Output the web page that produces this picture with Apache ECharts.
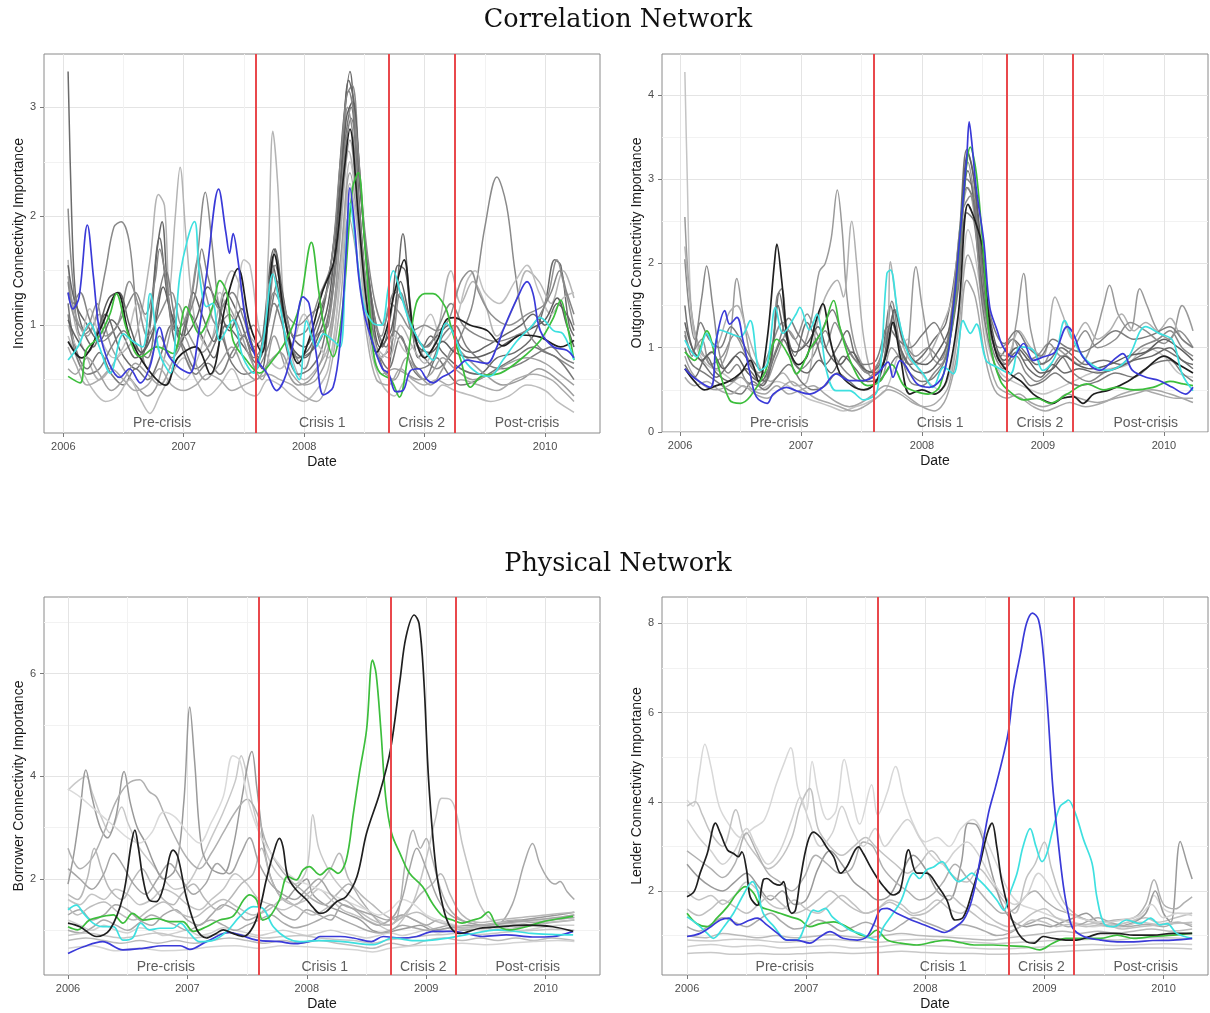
<!DOCTYPE html>
<html>
<head>
<meta charset="utf-8">
<script src="https://cdn.jsdelivr.net/npm/echarts@6/dist/echarts.min.js"></script>
<style>
html,body{margin:0;padding:0;background:#fff;}
#chart{width:1210px;height:1013px;}
</style>
</head>
<body>
<div id="chart"></div>
<script>
// ---- shared axis / period definitions ----
const xTicks = [2006, 2007, 2008, 2009, 2010];
const xMinorTicks = [2006.5, 2007.5, 2008.5, 2009.5];
const crisisDates = [2007.6, 2008.7, 2009.25];
const periodNames = ['Pre-crisis', 'Crisis 1', 'Crisis 2', 'Post-crisis'];
const periodEdges = [2006.04, 2007.6, 2008.7, 2009.25, 2010.45];

const inYTicks = [1, 2, 3];
const inYMinor = [0.5, 1.5, 2.5];
const outYTicks = [0, 1, 2, 3, 4];
const outYMinor = [0.5, 1.5, 2.5, 3.5];
const borYTicks = [2, 4, 6];
const borYMinor = [1, 3, 5, 7];
const lenYTicks = [2, 4, 6, 8];
const lenYMinor = [1, 3, 5, 7];

// ---- Incoming connectivity importance (correlation network) ----
const inBlue = [[2006.04,1.30],[2006.08,1.15],[2006.13,1.25],[2006.2,1.92],[2006.25,1.45],[2006.3,0.95],[2006.38,0.65],[2006.47,0.52],[2006.55,0.6],[2006.64,0.47],[2006.72,0.62],[2006.8,0.98],[2006.86,0.75],[2006.95,0.62],[2007.05,0.56],[2007.12,0.9],[2007.19,1.47],[2007.29,2.25],[2007.35,1.85],[2007.38,1.66],[2007.41,1.84],[2007.45,1.6],[2007.52,1.0],[2007.6,0.7],[2007.69,0.56],[2007.77,0.40],[2007.85,0.55],[2007.92,0.9],[2007.99,1.26],[2008.04,1.2],[2008.1,0.74],[2008.16,0.36],[2008.24,0.43],[2008.3,0.86],[2008.35,1.7],[2008.38,2.26],[2008.42,1.9],[2008.45,1.47],[2008.5,1.1],[2008.58,0.8],[2008.65,0.6],[2008.7,0.56],[2008.76,0.39],[2008.82,0.40],[2008.88,0.58],[2008.95,0.6],[2009.02,0.5],[2009.07,0.47],[2009.14,0.52],[2009.21,0.56],[2009.28,0.62],[2009.35,0.68],[2009.45,0.66],[2009.52,0.65],[2009.6,0.8],[2009.65,0.95],[2009.77,1.25],[2009.85,1.40],[2009.9,1.29],[2009.96,0.95],[2010.07,0.8],[2010.18,0.77],[2010.24,0.7]];
const inCyan = [[2006.04,0.68],[2006.12,0.8],[2006.22,1.02],[2006.3,0.8],[2006.39,0.56],[2006.5,0.92],[2006.58,0.85],[2006.66,0.8],[2006.72,1.29],[2006.8,0.74],[2006.89,0.56],[2006.97,1.47],[2007.09,1.95],[2007.13,1.47],[2007.19,1.17],[2007.24,1.2],[2007.3,0.86],[2007.41,1.05],[2007.49,0.71],[2007.58,0.56],[2007.66,0.86],[2007.74,1.47],[2007.8,1.17],[2007.88,0.71],[2007.96,0.5],[2008.02,1.04],[2008.1,0.8],[2008.16,0.92],[2008.24,0.86],[2008.3,0.8],[2008.35,1.77],[2008.38,2.12],[2008.43,1.72],[2008.49,1.2],[2008.57,1.02],[2008.64,1.0],[2008.7,1.35],[2008.74,1.5],[2008.8,1.29],[2008.88,1.02],[2009.0,0.77],[2009.07,0.68],[2009.18,1.02],[2009.24,0.92],[2009.33,0.68],[2009.44,0.56],[2009.54,0.53],[2009.65,0.68],[2009.77,0.86],[2009.88,0.98],[2009.96,1.07],[2010.07,0.95],[2010.15,0.92],[2010.24,0.68]];
const inGreen = [[2006.04,0.53],[2006.14,0.47],[2006.19,0.77],[2006.3,0.9],[2006.39,1.11],[2006.44,1.29],[2006.53,0.95],[2006.64,0.71],[2006.78,0.8],[2006.91,0.74],[2007.02,1.17],[2007.13,0.92],[2007.24,1.17],[2007.3,1.41],[2007.36,1.29],[2007.41,0.86],[2007.52,0.68],[2007.63,0.56],[2007.74,0.68],[2007.85,0.86],[2007.96,1.17],[2008.06,1.76],[2008.12,1.32],[2008.16,1.02],[2008.24,0.71],[2008.32,1.17],[2008.4,2.25],[2008.45,2.4],[2008.5,1.78],[2008.58,0.71],[2008.63,0.56],[2008.72,0.5],[2008.79,0.34],[2008.86,0.71],[2008.93,1.2],[2009.0,1.29],[2009.07,1.29],[2009.17,1.17],[2009.22,0.98],[2009.3,0.68],[2009.38,0.43],[2009.47,0.53],[2009.63,0.56],[2009.79,0.68],[2009.96,0.86],[2010.07,1.07],[2010.13,1.23],[2010.18,1.02],[2010.24,0.68]];
const inBlack = [[2006.04,0.85],[2006.15,0.7],[2006.3,0.95],[2006.45,1.3],[2006.55,0.9],[2006.7,0.6],[2006.85,0.45],[2006.95,0.7],[2007.1,0.8],[2007.22,0.55],[2007.35,1.2],[2007.45,1.52],[2007.55,1.0],[2007.65,0.75],[2007.75,1.65],[2007.85,1.0],[2007.95,0.65],[2008.05,0.9],[2008.15,1.3],[2008.25,1.6],[2008.33,2.4],[2008.38,2.8],[2008.45,2.0],[2008.52,1.2],[2008.6,0.75],[2008.68,0.95],[2008.75,1.3],[2008.83,1.6],[2008.9,1.0],[2009.0,0.7],[2009.1,0.85],[2009.18,1.05],[2009.24,1.07],[2009.38,1.0],[2009.52,0.95],[2009.65,0.81],[2009.8,0.91],[2009.96,0.89],[2010.13,0.8],[2010.24,0.86]];
const inGray1 = [[2006.04,3.33],[2006.07,2.0],[2006.1,1.3],[2006.15,1.0],[2006.25,0.8],[2006.35,1.1],[2006.48,0.75],[2006.6,0.6],[2006.7,0.9],[2006.8,1.8],[2006.86,1.3],[2006.95,0.8],[2007.05,1.1],[2007.15,0.9],[2007.25,0.7],[2007.35,1.0],[2007.5,0.8],[2007.6,0.65],[2007.75,1.7],[2007.85,1.0],[2007.95,0.7],[2008.05,0.8],[2008.15,1.1],[2008.25,1.8],[2008.32,2.8],[2008.38,3.33],[2008.43,2.6],[2008.5,1.5],[2008.58,0.9],[2008.68,0.55],[2008.76,1.2],[2008.82,1.84],[2008.88,1.2],[2008.95,0.7],[2009.05,0.9],[2009.15,0.75],[2009.3,0.6],[2009.45,0.55],[2009.6,0.7],[2009.75,0.75],[2009.9,0.9],[2010.0,1.2],[2010.08,1.6],[2010.13,1.55],[2010.2,1.0],[2010.24,0.9]];
const inGray2 = [[2006.04,2.07],[2006.08,1.4],[2006.15,0.9],[2006.25,1.0],[2006.35,1.5],[2006.42,1.9],[2006.48,1.95],[2006.55,1.75],[2006.62,1.0],[2006.7,0.6],[2006.8,0.9],[2006.9,0.7],[2007.0,0.9],[2007.1,1.5],[2007.18,2.22],[2007.23,1.8],[2007.3,1.1],[2007.4,0.7],[2007.5,0.9],[2007.6,0.6],[2007.7,0.8],[2007.8,1.2],[2007.9,0.8],[2008.0,0.6],[2008.1,0.9],[2008.2,1.0],[2008.28,1.9],[2008.35,3.1],[2008.4,3.2],[2008.46,2.4],[2008.55,1.2],[2008.62,0.7],[2008.72,0.8],[2008.8,1.3],[2008.9,0.9],[2009.0,0.7],[2009.1,0.6],[2009.2,0.7],[2009.3,0.9],[2009.4,1.2],[2009.5,1.9],[2009.6,2.36],[2009.68,2.1],[2009.75,1.5],[2009.83,1.0],[2009.95,0.8],[2010.1,0.7],[2010.24,0.6]];
const inGray3 = [[2006.04,1.6],[2006.1,1.0],[2006.2,0.7],[2006.3,0.5],[2006.45,0.7],[2006.6,0.9],[2006.72,1.6],[2006.79,2.2],[2006.84,2.1],[2006.88,1.3],[2006.93,2.0],[2006.97,2.45],[2007.02,1.8],[2007.1,1.0],[2007.2,0.8],[2007.3,1.2],[2007.4,1.5],[2007.48,1.3],[2007.55,0.9],[2007.65,0.8],[2007.7,1.6],[2007.74,2.78],[2007.78,2.3],[2007.83,1.2],[2007.9,0.7],[2008.0,0.5],[2008.1,0.6],[2008.2,0.8],[2008.3,1.8],[2008.37,2.6],[2008.43,2.2],[2008.5,1.2],[2008.6,0.8],[2008.7,0.7],[2008.8,1.0],[2008.9,0.8],[2009.0,0.65],[2009.1,0.9],[2009.22,1.5],[2009.3,1.2],[2009.4,1.4],[2009.5,1.2],[2009.6,0.9],[2009.75,1.2],[2009.85,1.5],[2009.95,1.4],[2010.05,1.2],[2010.15,1.5],[2010.24,1.25]];
const inGray4 = [[2006.04,1.2],[2006.1,0.8],[2006.2,0.6],[2006.3,0.75],[2006.4,0.55],[2006.5,0.45],[2006.6,0.6],[2006.7,0.5],[2006.8,0.7],[2006.9,1.0],[2007.0,0.8],[2007.1,0.6],[2007.2,0.7],[2007.3,0.9],[2007.4,0.65],[2007.5,0.55],[2007.6,0.6],[2007.7,1.0],[2007.78,1.4],[2007.85,0.8],[2007.95,0.55],[2008.05,0.6],[2008.15,0.8],[2008.25,1.5],[2008.33,2.6],[2008.39,3.0],[2008.45,2.2],[2008.52,1.3],[2008.6,0.8],[2008.7,0.6],[2008.8,0.9],[2008.9,0.6],[2009.0,0.5],[2009.1,0.7],[2009.2,0.55],[2009.3,0.45],[2009.45,0.5],[2009.6,0.6],[2009.75,0.7],[2009.9,0.8],[2010.0,0.75],[2010.1,0.7],[2010.24,0.5]];
const inGray5 = [[2006.04,1.45],[2006.1,1.1],[2006.2,0.9],[2006.3,1.1],[2006.4,0.8],[2006.5,0.6],[2006.6,0.45],[2006.7,0.35],[2006.78,0.45],[2006.88,0.9],[2006.95,1.2],[2007.05,0.9],[2007.15,0.75],[2007.25,0.9],[2007.35,1.2],[2007.45,1.0],[2007.55,0.7],[2007.65,0.5],[2007.75,0.9],[2007.85,0.6],[2007.95,0.45],[2008.05,0.5],[2008.15,0.7],[2008.25,1.2],[2008.32,2.2],[2008.38,2.7],[2008.45,2.0],[2008.55,1.0],[2008.65,0.6],[2008.75,0.5],[2008.85,0.7],[2008.95,0.55],[2009.05,0.45],[2009.15,0.6],[2009.25,0.8],[2009.35,0.7],[2009.5,0.55],[2009.65,0.45],[2009.8,0.5],[2009.95,0.6],[2010.1,0.5],[2010.24,0.35]];
const inGray6 = [[2006.04,0.9],[2006.15,0.6],[2006.25,0.4],[2006.35,0.3],[2006.45,0.35],[2006.55,0.5],[2006.65,0.3],[2006.72,0.19],[2006.8,0.35],[2006.9,0.55],[2007.0,0.7],[2007.1,0.5],[2007.2,0.35],[2007.3,0.45],[2007.4,0.6],[2007.5,0.4],[2007.6,0.35],[2007.7,0.5],[2007.8,0.45],[2007.9,0.35],[2008.0,0.3],[2008.1,0.4],[2008.2,0.6],[2008.3,1.4],[2008.38,2.3],[2008.45,1.8],[2008.55,0.8],[2008.65,0.45],[2008.75,0.35],[2008.85,0.5],[2008.95,0.4],[2009.05,0.35],[2009.15,0.45],[2009.25,0.4],[2009.4,0.35],[2009.55,0.3],[2009.7,0.35],[2009.85,0.45],[2010.0,0.4],[2010.1,0.3],[2010.24,0.2]];
const inGray7 = [[2006.04,1.55],[2006.1,1.2],[2006.2,1.0],[2006.3,0.85],[2006.4,1.05],[2006.5,0.9],[2006.6,0.7],[2006.7,0.85],[2006.78,1.7],[2006.82,1.95],[2006.88,1.2],[2006.98,0.85],[2007.08,1.3],[2007.15,1.1],[2007.25,0.85],[2007.35,1.3],[2007.45,1.1],[2007.55,0.8],[2007.63,0.7],[2007.72,1.4],[2007.76,1.7],[2007.82,1.3],[2007.9,0.9],[2008.0,0.8],[2008.1,1.0],[2008.2,1.4],[2008.3,2.3],[2008.37,3.25],[2008.42,3.0],[2008.5,1.8],[2008.58,1.1],[2008.65,0.8],[2008.72,1.1],[2008.78,1.55],[2008.84,1.5],[2008.9,1.0],[2009.0,0.8],[2009.1,0.9],[2009.2,1.0],[2009.3,0.8],[2009.4,0.75],[2009.5,0.8],[2009.65,0.9],[2009.8,1.0],[2009.9,1.1],[2010.0,1.0],[2010.1,1.2],[2010.18,1.1],[2010.24,0.95]];
const inGray8 = [[2006.04,1.0],[2006.12,0.8],[2006.22,1.15],[2006.3,0.9],[2006.42,0.7],[2006.52,0.85],[2006.62,1.2],[2006.7,1.0],[2006.8,0.75],[2006.9,0.6],[2007.0,0.5],[2007.1,0.65],[2007.2,1.0],[2007.3,1.3],[2007.4,1.0],[2007.5,1.6],[2007.55,1.55],[2007.62,1.0],[2007.7,0.7],[2007.8,0.6],[2007.9,0.8],[2008.0,1.1],[2008.1,0.85],[2008.2,0.7],[2008.3,1.5],[2008.38,2.5],[2008.45,2.0],[2008.55,1.0],[2008.65,0.7],[2008.75,0.9],[2008.85,0.75],[2008.95,0.9],[2009.05,1.1],[2009.15,0.85],[2009.25,1.0],[2009.35,1.4],[2009.42,1.5],[2009.5,1.3],[2009.62,1.2],[2009.75,1.4],[2009.85,1.55],[2009.95,1.3],[2010.05,1.1],[2010.15,1.25],[2010.24,1.3]];
const inGray9 = [[2006.04,1.1],[2006.1,0.75],[2006.2,0.55],[2006.3,0.6],[2006.4,0.8],[2006.5,0.95],[2006.6,0.8],[2006.7,0.7],[2006.78,1.2],[2006.85,1.5],[2006.92,1.1],[2007.0,0.75],[2007.1,0.55],[2007.2,0.65],[2007.3,0.55],[2007.4,0.75],[2007.5,0.9],[2007.58,0.7],[2007.65,0.8],[2007.75,1.2],[2007.85,0.9],[2007.95,0.7],[2008.05,0.75],[2008.15,0.9],[2008.25,1.4],[2008.33,2.5],[2008.39,2.9],[2008.46,2.3],[2008.53,1.5],[2008.6,1.0],[2008.68,0.8],[2008.75,0.95],[2008.85,0.8],[2008.95,0.6],[2009.05,0.65],[2009.15,0.9],[2009.25,1.0],[2009.35,0.8],[2009.5,0.65],[2009.65,0.6],[2009.8,0.65],[2009.95,0.75],[2010.05,0.8],[2010.15,0.7],[2010.24,0.65]];
const inGray10 = [[2006.04,0.8],[2006.1,0.65],[2006.2,0.45],[2006.3,0.5],[2006.4,0.6],[2006.5,0.5],[2006.6,0.4],[2006.7,0.45],[2006.8,0.6],[2006.9,0.45],[2007.0,0.4],[2007.1,0.45],[2007.2,0.55],[2007.3,0.5],[2007.4,0.4],[2007.5,0.45],[2007.6,0.5],[2007.7,0.55],[2007.8,0.5],[2007.9,0.45],[2008.0,0.35],[2008.1,0.3],[2008.2,0.5],[2008.3,1.2],[2008.37,2.0],[2008.44,1.6],[2008.52,0.9],[2008.6,0.5],[2008.7,0.45],[2008.8,0.6],[2008.9,0.5],[2009.0,0.45],[2009.1,0.5],[2009.2,0.45],[2009.3,0.5],[2009.45,0.45],[2009.6,0.4],[2009.75,0.5],[2009.9,0.55],[2010.05,0.5],[2010.15,0.4],[2010.24,0.3]];
const inGray11 = [[2006.04,1.3],[2006.1,1.05],[2006.18,0.95],[2006.28,1.2],[2006.35,0.9],[2006.45,1.0],[2006.55,1.4],[2006.62,1.2],[2006.7,0.9],[2006.8,1.1],[2006.9,1.3],[2006.98,1.0],[2007.05,1.2],[2007.12,1.6],[2007.18,1.3],[2007.28,1.0],[2007.38,1.1],[2007.48,0.9],[2007.58,1.0],[2007.66,0.85],[2007.75,1.3],[2007.85,1.1],[2007.95,1.0],[2008.05,1.1],[2008.15,1.2],[2008.25,1.6],[2008.31,2.3],[2008.36,3.0],[2008.41,2.7],[2008.48,1.7],[2008.56,1.1],[2008.64,0.9],[2008.72,1.2],[2008.8,1.1],[2008.9,0.95],[2009.0,1.0],[2009.1,0.95],[2009.2,1.05],[2009.3,1.4],[2009.38,1.5],[2009.45,1.3],[2009.55,1.1],[2009.7,1.0],[2009.85,1.1],[2010.0,1.2],[2010.1,1.6],[2010.15,1.4],[2010.24,1.0]];
const inGray12 = [[2006.04,1.05],[2006.1,0.9],[2006.2,0.75],[2006.3,1.0],[2006.38,1.25],[2006.46,1.3],[2006.55,1.0],[2006.65,0.75],[2006.75,0.95],[2006.83,1.35],[2006.9,1.1],[2007.0,0.9],[2007.1,1.05],[2007.2,1.35],[2007.28,1.2],[2007.38,0.95],[2007.48,1.15],[2007.56,0.85],[2007.65,0.6],[2007.74,1.55],[2007.8,1.25],[2007.9,0.8],[2008.0,0.7],[2008.1,0.85],[2008.2,1.2],[2008.28,2.0],[2008.35,2.9],[2008.4,3.05],[2008.47,2.2],[2008.55,1.3],[2008.63,0.8],[2008.72,0.95],[2008.8,1.4],[2008.87,1.1],[2008.95,0.8],[2009.05,0.75],[2009.15,0.85],[2009.25,0.75],[2009.4,0.7],[2009.55,0.75],[2009.7,0.85],[2009.85,0.95],[2010.0,1.05],[2010.1,1.25],[2010.18,1.0],[2010.24,0.8]];
const inGray13 = [[2006.04,0.6],[2006.1,0.55],[2006.2,0.7],[2006.3,0.55],[2006.4,0.4],[2006.5,0.5],[2006.6,0.65],[2006.7,0.55],[2006.8,0.45],[2006.9,0.65],[2007.0,0.9],[2007.08,0.7],[2007.18,0.5],[2007.3,0.65],[2007.4,0.8],[2007.5,0.6],[2007.6,0.5],[2007.7,0.65],[2007.8,0.75],[2007.9,0.55],[2008.0,0.45],[2008.1,0.5],[2008.2,0.75],[2008.3,1.6],[2008.38,2.4],[2008.45,1.9],[2008.55,0.9],[2008.65,0.55],[2008.75,0.6],[2008.85,0.55],[2008.95,0.5],[2009.05,0.55],[2009.15,0.7],[2009.25,0.6],[2009.4,0.5],[2009.55,0.55],[2009.7,0.65],[2009.85,0.7],[2010.0,0.65],[2010.12,0.55],[2010.24,0.45]];
const inGray14 = [[2006.04,1.4],[2006.08,1.2],[2006.14,1.3],[2006.22,1.05],[2006.32,0.85],[2006.42,0.95],[2006.52,1.15],[2006.6,1.3],[2006.68,1.1],[2006.76,1.4],[2006.8,1.7],[2006.85,1.45],[2006.93,0.95],[2007.02,1.05],[2007.1,1.3],[2007.15,1.7],[2007.2,1.45],[2007.3,1.15],[2007.4,1.3],[2007.5,1.05],[2007.58,0.8],[2007.68,0.95],[2007.76,1.55],[2007.83,1.2],[2007.92,0.9],[2008.02,0.95],[2008.12,1.25],[2008.22,1.55],[2008.3,2.5],[2008.37,3.15],[2008.43,2.8],[2008.5,1.9],[2008.58,1.25],[2008.66,1.0],[2008.75,1.3],[2008.83,1.2],[2008.92,0.9],[2009.02,0.8],[2009.12,1.0],[2009.22,1.2],[2009.32,1.0],[2009.45,0.9],[2009.6,0.85],[2009.75,0.9],[2009.9,1.0],[2010.05,1.3],[2010.12,1.5],[2010.18,1.3],[2010.24,1.1]];
const inGrays = [inGray1, inGray2, inGray3, inGray4, inGray5, inGray6, inGray7, inGray8, inGray9, inGray10, inGray11, inGray12, inGray13, inGray14];
const inGrayShades = ['#6b6b6b', '#8a8a8a', '#b4b4b4', '#767676', '#9c9c9c', '#bdbdbd', '#666666', '#c0c0c0', '#7f7f7f', '#ababab', '#909090', '#5e5e5e', '#a0a0a0', '#858585'];

// ---- Outgoing connectivity importance (correlation network) ----
const outBlue = [[2006.04,0.75],[2006.11,0.65],[2006.25,0.53],[2006.3,1.09],[2006.37,1.44],[2006.41,1.28],[2006.47,1.36],[2006.52,1.09],[2006.58,0.69],[2006.63,0.42],[2006.72,0.34],[2006.77,0.45],[2006.88,0.53],[2006.96,0.49],[2007.07,0.45],[2007.18,0.53],[2007.29,0.69],[2007.4,0.61],[2007.52,0.61],[2007.63,0.69],[2007.72,0.83],[2007.76,0.65],[2007.82,0.85],[2007.96,0.57],[2008.06,0.53],[2008.18,0.69],[2008.26,1.48],[2008.31,2.27],[2008.37,3.26],[2008.39,3.68],[2008.41,3.46],[2008.45,2.87],[2008.51,2.27],[2008.56,1.48],[2008.62,1.21],[2008.67,1.01],[2008.75,0.89],[2008.84,1.05],[2008.92,0.85],[2009.0,0.89],[2009.1,0.95],[2009.2,1.25],[2009.25,1.17],[2009.33,0.89],[2009.47,0.73],[2009.58,0.85],[2009.66,0.93],[2009.74,0.73],[2009.85,0.65],[2009.96,0.61],[2010.07,0.53],[2010.18,0.45],[2010.24,0.53]];
const outCyan = [[2006.04,1.09],[2006.14,0.89],[2006.22,1.17],[2006.28,1.01],[2006.33,1.21],[2006.41,1.17],[2006.5,1.13],[2006.58,1.32],[2006.66,0.73],[2006.72,0.8],[2006.79,1.48],[2006.85,1.17],[2006.96,1.4],[2006.99,1.48],[2007.07,1.21],[2007.13,1.4],[2007.21,0.73],[2007.29,0.49],[2007.4,0.49],[2007.52,0.38],[2007.63,0.49],[2007.71,1.88],[2007.74,1.92],[2007.8,1.4],[2007.85,1.09],[2007.9,0.89],[2008.01,0.69],[2008.09,0.53],[2008.18,0.77],[2008.26,0.69],[2008.34,1.32],[2008.4,1.17],[2008.45,1.28],[2008.53,0.85],[2008.62,0.77],[2008.73,0.69],[2008.81,1.01],[2008.92,0.97],[2009.0,0.73],[2009.1,0.89],[2009.18,1.32],[2009.25,1.09],[2009.36,0.85],[2009.53,0.73],[2009.69,0.85],[2009.85,1.25],[2009.96,1.17],[2010.07,1.09],[2010.15,0.69],[2010.24,0.49]];
const outGreen = [[2006.04,0.95],[2006.12,0.85],[2006.22,1.2],[2006.3,0.85],[2006.41,0.38],[2006.5,0.34],[2006.58,0.42],[2006.7,0.7],[2006.8,1.1],[2006.9,0.9],[2006.96,0.69],[2007.08,1.0],[2007.18,1.21],[2007.27,1.56],[2007.32,1.25],[2007.42,0.8],[2007.55,0.55],[2007.65,0.6],[2007.75,0.8],[2007.85,0.55],[2007.95,0.48],[2008.05,0.45],[2008.15,0.55],[2008.25,1.3],[2008.34,2.75],[2008.4,3.38],[2008.45,3.06],[2008.51,2.08],[2008.56,1.09],[2008.65,0.6],[2008.75,0.45],[2008.84,0.38],[2008.95,0.4],[2009.06,0.34],[2009.2,0.45],[2009.36,0.57],[2009.5,0.5],[2009.61,0.53],[2009.75,0.5],[2009.91,0.53],[2010.05,0.6],[2010.16,0.57],[2010.24,0.55]];
const outBlack = [[2006.04,0.75],[2006.12,0.6],[2006.2,0.5],[2006.3,0.55],[2006.4,0.6],[2006.5,0.7],[2006.58,0.85],[2006.65,0.6],[2006.72,1.1],[2006.78,2.0],[2006.8,2.23],[2006.84,1.8],[2006.9,1.0],[2006.98,0.8],[2007.05,0.9],[2007.12,1.3],[2007.18,1.52],[2007.24,1.1],[2007.32,0.7],[2007.42,0.55],[2007.52,0.5],[2007.62,0.6],[2007.7,0.9],[2007.76,1.3],[2007.82,0.9],[2007.9,0.45],[2008.0,0.5],[2008.1,0.45],[2008.2,0.6],[2008.3,1.4],[2008.38,2.7],[2008.44,2.5],[2008.5,2.19],[2008.55,1.4],[2008.62,0.9],[2008.72,0.7],[2008.82,0.6],[2008.92,0.45],[2009.0,0.38],[2009.08,0.34],[2009.16,0.4],[2009.25,0.42],[2009.33,0.34],[2009.42,0.45],[2009.55,0.5],[2009.7,0.6],[2009.85,0.75],[2010.0,0.9],[2010.12,0.8],[2010.24,0.7]];
const outGray1 = [[2006.04,4.27],[2006.06,3.0],[2006.09,1.5],[2006.14,1.0],[2006.22,0.8],[2006.35,0.7],[2006.5,0.55],[2006.65,0.5],[2006.8,0.6],[2006.95,0.5],[2007.05,0.4],[2007.15,0.35],[2007.25,0.3],[2007.35,0.25],[2007.45,0.3],[2007.55,0.35],[2007.7,0.5],[2007.8,0.9],[2007.88,1.1],[2007.95,0.8],[2008.05,0.6],[2008.15,0.5],[2008.25,0.8],[2008.33,1.8],[2008.38,2.4],[2008.45,2.0],[2008.55,1.0],[2008.65,0.7],[2008.75,0.6],[2008.9,0.5],[2009.0,0.45],[2009.1,0.5],[2009.25,0.6],[2009.4,0.7],[2009.55,0.75],[2009.7,0.8],[2009.85,1.0],[2010.0,0.9],[2010.12,0.7],[2010.24,0.65]];
const outGray2 = [[2006.04,2.05],[2006.08,1.4],[2006.12,1.1],[2006.18,1.6],[2006.22,1.97],[2006.27,1.5],[2006.33,0.9],[2006.4,0.7],[2006.47,0.8],[2006.55,0.6],[2006.65,0.55],[2006.75,0.8],[2006.8,1.6],[2006.84,1.7],[2006.9,1.0],[2007.0,0.75],[2007.1,0.9],[2007.2,1.2],[2007.28,0.9],[2007.38,0.7],[2007.5,0.6],[2007.6,0.7],[2007.7,1.1],[2007.75,1.55],[2007.82,1.0],[2007.9,0.6],[2008.0,0.55],[2008.1,0.7],[2008.2,0.9],[2008.3,1.8],[2008.37,3.0],[2008.42,2.9],[2008.5,1.8],[2008.58,1.0],[2008.68,0.75],[2008.78,0.9],[2008.86,0.7],[2008.95,0.6],[2009.05,0.7],[2009.15,0.9],[2009.25,0.7],[2009.38,0.6],[2009.5,0.7],[2009.65,0.8],[2009.8,1.0],[2009.95,1.1],[2010.05,1.2],[2010.15,1.0],[2010.24,0.9]];
const outGray3 = [[2006.04,2.55],[2006.07,1.8],[2006.12,1.2],[2006.2,0.9],[2006.3,0.75],[2006.4,1.0],[2006.47,1.82],[2006.52,1.4],[2006.6,0.8],[2006.7,0.6],[2006.8,0.9],[2006.9,1.2],[2007.0,1.0],[2007.08,1.3],[2007.15,1.9],[2007.2,2.0],[2007.25,2.3],[2007.3,2.87],[2007.34,2.4],[2007.38,1.6],[2007.45,1.0],[2007.55,0.7],[2007.65,0.6],[2007.75,1.0],[2007.85,0.8],[2007.95,1.96],[2008.0,1.5],[2008.08,0.9],[2008.15,0.8],[2008.25,1.3],[2008.32,2.2],[2008.38,3.2],[2008.44,2.7],[2008.5,1.6],[2008.6,1.0],[2008.7,0.8],[2008.78,1.3],[2008.84,1.88],[2008.9,1.2],[2009.0,0.8],[2009.1,1.0],[2009.2,0.9],[2009.3,0.8],[2009.42,1.1],[2009.5,1.5],[2009.55,1.74],[2009.62,1.4],[2009.72,1.2],[2009.8,1.7],[2009.86,1.5],[2009.95,1.2],[2010.05,1.1],[2010.15,1.5],[2010.24,1.2]];
const outGray4 = [[2006.04,1.5],[2006.1,1.0],[2006.2,0.8],[2006.3,0.65],[2006.4,0.8],[2006.5,0.95],[2006.6,0.75],[2006.7,0.6],[2006.78,1.2],[2006.82,1.65],[2006.88,1.2],[2006.95,0.9],[2007.05,1.3],[2007.12,1.1],[2007.2,0.8],[2007.3,1.0],[2007.38,1.2],[2007.45,0.9],[2007.55,0.7],[2007.65,0.8],[2007.74,1.5],[2007.8,1.1],[2007.9,0.8],[2008.0,0.9],[2008.1,1.1],[2008.2,1.3],[2008.3,2.2],[2008.37,3.35],[2008.42,3.1],[2008.48,2.2],[2008.55,1.3],[2008.65,0.9],[2008.75,1.1],[2008.85,0.95],[2008.95,0.8],[2009.05,0.85],[2009.15,1.0],[2009.25,0.9],[2009.35,0.8],[2009.5,0.85],[2009.65,0.8],[2009.8,0.9],[2009.95,1.0],[2010.1,0.9],[2010.24,0.75]];
const outGray5 = [[2006.04,2.2],[2006.08,1.6],[2006.12,1.2],[2006.2,0.9],[2006.3,1.0],[2006.4,1.4],[2006.47,1.5],[2006.55,1.2],[2006.65,0.8],[2006.75,0.6],[2006.85,0.7],[2006.95,0.55],[2007.05,0.6],[2007.12,1.2],[2007.2,1.6],[2007.3,1.8],[2007.35,1.6],[2007.42,2.5],[2007.46,2.0],[2007.52,1.1],[2007.6,0.7],[2007.7,0.9],[2007.74,2.02],[2007.78,1.6],[2007.85,1.0],[2007.95,0.8],[2008.05,0.9],[2008.15,1.2],[2008.25,1.6],[2008.32,2.5],[2008.38,2.9],[2008.45,2.4],[2008.52,1.5],[2008.6,1.0],[2008.7,0.9],[2008.8,1.2],[2008.9,1.0],[2009.0,0.9],[2009.1,1.6],[2009.16,1.4],[2009.25,1.1],[2009.35,1.3],[2009.45,1.1],[2009.55,1.2],[2009.65,1.4],[2009.75,1.2],[2009.85,1.3],[2009.95,1.2],[2010.05,1.35],[2010.15,1.1],[2010.24,1.0]];
const outGray6 = [[2006.04,1.0],[2006.1,0.8],[2006.2,0.7],[2006.3,0.6],[2006.4,0.5],[2006.5,0.45],[2006.6,0.6],[2006.7,0.5],[2006.8,0.65],[2006.9,0.8],[2007.0,0.6],[2007.1,0.5],[2007.2,0.55],[2007.3,0.7],[2007.4,0.6],[2007.5,0.5],[2007.6,0.55],[2007.7,0.7],[2007.8,0.9],[2007.9,0.7],[2008.0,0.6],[2008.1,0.65],[2008.2,0.9],[2008.3,1.7],[2008.37,2.6],[2008.43,2.5],[2008.5,1.5],[2008.6,0.8],[2008.7,0.6],[2008.8,0.7],[2008.9,0.55],[2009.0,0.6],[2009.1,0.7],[2009.2,0.6],[2009.3,0.55],[2009.45,0.6],[2009.6,0.7],[2009.75,0.65],[2009.9,0.8],[2010.05,0.85],[2010.15,0.7],[2010.24,0.6]];
const outGray7 = [[2006.04,0.9],[2006.1,0.7],[2006.2,0.55],[2006.3,0.5],[2006.4,0.55],[2006.5,0.65],[2006.6,0.5],[2006.7,0.45],[2006.8,0.55],[2006.9,0.45],[2007.0,0.5],[2007.1,0.55],[2007.2,0.45],[2007.3,0.35],[2007.4,0.3],[2007.5,0.35],[2007.6,0.45],[2007.7,0.55],[2007.8,0.5],[2007.9,0.4],[2008.0,0.3],[2008.1,0.25],[2008.2,0.4],[2008.3,1.0],[2008.37,1.8],[2008.44,1.6],[2008.52,0.9],[2008.6,0.5],[2008.7,0.4],[2008.8,0.45],[2008.9,0.35],[2009.0,0.3],[2009.1,0.35],[2009.2,0.45],[2009.3,0.4],[2009.45,0.35],[2009.6,0.4],[2009.75,0.45],[2009.9,0.5],[2010.05,0.45],[2010.15,0.4],[2010.24,0.35]];
const outGray8 = [[2006.04,1.2],[2006.1,0.95],[2006.18,1.1],[2006.25,0.8],[2006.35,0.9],[2006.45,1.15],[2006.55,0.9],[2006.65,0.7],[2006.75,1.0],[2006.85,1.3],[2006.95,1.1],[2007.05,1.4],[2007.12,1.2],[2007.2,1.0],[2007.28,1.3],[2007.35,1.1],[2007.45,0.85],[2007.55,0.7],[2007.65,0.85],[2007.72,1.2],[2007.78,1.45],[2007.85,1.1],[2007.95,0.9],[2008.05,1.0],[2008.15,0.85],[2008.25,1.5],[2008.33,2.6],[2008.4,2.8],[2008.47,2.0],[2008.55,1.2],[2008.65,1.0],[2008.75,1.1],[2008.85,0.85],[2008.95,0.9],[2009.05,1.05],[2009.15,0.9],[2009.25,1.0],[2009.35,1.2],[2009.45,1.0],[2009.6,1.1],[2009.72,1.3],[2009.85,1.2],[2010.0,1.05],[2010.12,1.2],[2010.24,1.0]];
const outGray9 = [[2006.04,0.8],[2006.12,0.65],[2006.22,0.9],[2006.3,0.7],[2006.42,0.6],[2006.55,0.75],[2006.68,0.55],[2006.78,0.9],[2006.85,1.1],[2006.95,0.8],[2007.05,0.7],[2007.15,0.85],[2007.25,0.7],[2007.35,0.9],[2007.45,0.75],[2007.55,0.6],[2007.65,0.65],[2007.75,1.3],[2007.82,1.0],[2007.92,0.75],[2008.02,0.7],[2008.12,0.8],[2008.22,1.1],[2008.3,2.0],[2008.38,3.1],[2008.44,2.6],[2008.5,1.7],[2008.58,1.1],[2008.68,0.8],[2008.78,0.95],[2008.88,0.75],[2008.98,0.65],[2009.08,0.8],[2009.18,0.7],[2009.3,0.75],[2009.45,0.7],[2009.6,0.75],[2009.75,0.85],[2009.9,0.9],[2010.05,1.0],[2010.15,0.85],[2010.24,0.8]];
const outGray10 = [[2006.04,1.3],[2006.1,1.0],[2006.18,0.85],[2006.26,0.95],[2006.36,0.75],[2006.46,0.9],[2006.56,0.7],[2006.66,0.6],[2006.75,0.85],[2006.81,1.5],[2006.86,1.2],[2006.95,0.95],[2007.05,1.05],[2007.14,1.25],[2007.22,0.95],[2007.32,0.8],[2007.42,0.95],[2007.52,0.75],[2007.62,0.7],[2007.72,1.0],[2007.77,1.45],[2007.84,1.1],[2007.93,0.85],[2008.03,0.8],[2008.13,0.95],[2008.23,1.25],[2008.31,2.3],[2008.38,3.3],[2008.44,2.9],[2008.51,1.9],[2008.59,1.15],[2008.68,0.85],[2008.78,1.0],[2008.88,0.85],[2008.98,0.7],[2009.08,0.75],[2009.18,0.9],[2009.28,0.8],[2009.4,0.75],[2009.55,0.8],[2009.7,0.9],[2009.85,0.95],[2010.0,1.1],[2010.12,1.0],[2010.24,0.85]];
const outGray11 = [[2006.04,0.65],[2006.12,0.55],[2006.22,0.6],[2006.32,0.5],[2006.42,0.45],[2006.52,0.55],[2006.62,0.45],[2006.72,0.4],[2006.82,0.5],[2006.92,0.6],[2007.02,0.5],[2007.12,0.4],[2007.22,0.35],[2007.32,0.3],[2007.42,0.25],[2007.52,0.3],[2007.62,0.4],[2007.72,0.5],[2007.82,0.45],[2007.92,0.35],[2008.02,0.3],[2008.12,0.35],[2008.22,0.55],[2008.3,1.2],[2008.38,2.1],[2008.45,1.8],[2008.53,1.0],[2008.62,0.55],[2008.72,0.45],[2008.82,0.4],[2008.92,0.3],[2009.02,0.25],[2009.12,0.3],[2009.22,0.35],[2009.35,0.3],[2009.5,0.35],[2009.65,0.45],[2009.8,0.5],[2009.95,0.45],[2010.1,0.4],[2010.24,0.4]];
const outGray12 = [[2006.04,1.15],[2006.1,0.9],[2006.17,1.3],[2006.24,1.1],[2006.33,1.0],[2006.42,1.25],[2006.5,1.1],[2006.6,0.85],[2006.7,0.7],[2006.8,1.0],[2006.9,1.35],[2006.98,1.15],[2007.08,1.0],[2007.17,1.2],[2007.26,1.45],[2007.33,1.2],[2007.42,0.9],[2007.52,0.8],[2007.62,0.85],[2007.72,1.25],[2007.8,1.1],[2007.9,1.0],[2008.0,1.15],[2008.1,1.3],[2008.2,1.05],[2008.3,1.9],[2008.37,2.9],[2008.43,2.75],[2008.5,1.9],[2008.58,1.3],[2008.68,1.05],[2008.78,1.2],[2008.88,1.0],[2008.98,0.9],[2009.08,1.1],[2009.2,1.0],[2009.32,0.95],[2009.45,1.05],[2009.6,1.2],[2009.75,1.1],[2009.9,1.15],[2010.05,1.25],[2010.15,1.1],[2010.24,1.0]];
const outGrays = [outGray1, outGray2, outGray3, outGray4, outGray5, outGray6, outGray7, outGray8, outGray9, outGray10, outGray11, outGray12];
const outGrayShades = ['#c4c4c4', '#888888', '#9a9a9a', '#707070', '#b0b0b0', '#7a7a7a', '#a4a4a4', '#8f8f8f', '#6a6a6a', '#5f5f5f', '#a9a9a9', '#7c7c7c'];

// ---- Borrower connectivity importance (physical network) ----
const borBlue = [[2006.0,0.55],[2006.13,0.68],[2006.29,0.78],[2006.46,0.62],[2006.63,0.65],[2006.8,0.7],[2006.94,0.7],[2007.02,0.63],[2007.16,0.78],[2007.35,0.96],[2007.44,0.91],[2007.58,0.81],[2007.77,0.78],[2007.89,0.74],[2008.05,0.8],[2008.11,0.88],[2008.28,0.88],[2008.39,0.85],[2008.54,0.78],[2008.64,0.88],[2008.78,0.85],[2008.92,0.88],[2009.06,0.98],[2009.22,0.98],[2009.33,0.94],[2009.47,0.88],[2009.67,0.91],[2009.89,0.87],[2010.06,0.88],[2010.23,0.98]];
const borCyan = [[2006.0,1.4],[2006.07,1.49],[2006.13,1.33],[2006.21,1.14],[2006.29,1.07],[2006.38,1.07],[2006.46,0.81],[2006.54,0.85],[2006.61,1.14],[2006.68,1.01],[2006.77,1.04],[2006.88,1.04],[2006.94,1.14],[2007.02,0.94],[2007.1,0.78],[2007.22,0.81],[2007.33,0.98],[2007.44,1.27],[2007.55,1.46],[2007.63,1.43],[2007.72,1.07],[2007.83,0.85],[2007.94,0.78],[2008.1,0.8],[2008.3,0.78],[2008.56,0.72],[2008.72,0.85],[2008.9,0.8],[2009.05,0.81],[2009.33,0.91],[2009.6,1.01],[2009.88,0.94],[2010.05,0.92],[2010.23,0.91]];
const borGreen = [[2006.0,1.07],[2006.08,1.01],[2006.18,1.2],[2006.29,1.27],[2006.38,1.3],[2006.46,1.14],[2006.54,1.33],[2006.63,1.2],[2006.74,1.23],[2006.85,1.17],[2006.96,1.17],[2007.05,0.98],[2007.16,1.07],[2007.27,1.2],[2007.38,1.27],[2007.47,1.59],[2007.52,1.69],[2007.58,1.59],[2007.63,1.2],[2007.69,1.27],[2007.77,1.59],[2007.84,2.05],[2007.91,1.98],[2007.97,2.18],[2008.02,2.24],[2008.11,2.08],[2008.19,2.21],[2008.26,2.11],[2008.33,2.37],[2008.39,3.28],[2008.44,4.06],[2008.5,4.9],[2008.55,6.26],[2008.58,6.0],[2008.62,4.9],[2008.66,3.6],[2008.71,2.89],[2008.78,2.5],[2008.86,2.11],[2008.97,1.85],[2009.05,1.53],[2009.14,1.27],[2009.22,1.2],[2009.3,1.14],[2009.39,1.2],[2009.46,1.25],[2009.52,1.36],[2009.59,1.1],[2009.7,1.01],[2009.84,1.07],[2009.98,1.17],[2010.12,1.23],[2010.23,1.27]];
const borBlack = [[2006.0,1.14],[2006.1,1.07],[2006.24,0.88],[2006.35,1.01],[2006.46,1.66],[2006.53,2.69],[2006.56,2.95],[2006.59,2.6],[2006.63,1.98],[2006.68,1.59],[2006.74,1.56],[2006.8,1.85],[2006.85,2.43],[2006.88,2.56],[2006.92,2.43],[2006.99,1.66],[2007.08,1.01],[2007.16,0.85],[2007.24,0.94],[2007.3,1.01],[2007.38,0.94],[2007.47,0.88],[2007.55,1.07],[2007.61,1.46],[2007.66,1.98],[2007.72,2.5],[2007.77,2.79],[2007.8,2.63],[2007.84,2.05],[2007.91,1.79],[2008.0,1.59],[2008.05,1.45],[2008.11,1.33],[2008.16,1.36],[2008.25,1.56],[2008.33,1.66],[2008.42,2.05],[2008.5,2.89],[2008.61,3.67],[2008.7,4.51],[2008.78,5.87],[2008.83,6.71],[2008.9,7.14],[2008.94,6.97],[2008.98,5.87],[2009.02,3.92],[2009.08,2.24],[2009.14,1.46],[2009.2,1.07],[2009.28,0.94],[2009.45,1.04],[2009.62,1.07],[2009.84,1.1],[2010.06,1.07],[2010.23,0.98]];
const borGray1 = [[2006.0,3.73],[2006.08,3.9],[2006.15,4.0],[2006.2,3.7],[2006.28,3.2],[2006.35,2.9],[2006.45,3.4],[2006.5,3.1],[2006.6,2.6],[2006.7,2.3],[2006.8,2.0],[2006.9,1.8],[2007.0,1.9],[2007.1,2.3],[2007.2,2.8],[2007.3,3.3],[2007.4,3.9],[2007.45,4.4],[2007.5,4.0],[2007.55,3.4],[2007.62,2.8],[2007.7,2.3],[2007.8,2.0],[2007.9,1.9],[2008.0,2.2],[2008.05,3.25],[2008.1,2.6],[2008.2,2.1],[2008.3,1.8],[2008.4,1.6],[2008.5,1.4],[2008.6,1.2],[2008.7,1.1],[2008.8,1.3],[2008.9,1.2],[2009.0,1.1],[2009.1,1.0],[2009.2,1.05],[2009.35,1.0],[2009.5,1.1],[2009.7,1.15],[2009.9,1.2],[2010.1,1.25],[2010.24,1.3]];
const borGray2 = [[2006.0,1.9],[2006.05,2.5],[2006.1,3.3],[2006.15,4.12],[2006.2,3.6],[2006.27,3.0],[2006.33,2.8],[2006.4,3.2],[2006.47,4.09],[2006.52,3.5],[2006.58,3.0],[2006.65,2.7],[2006.72,2.3],[2006.8,2.0],[2006.9,2.2],[2006.97,3.5],[2007.02,5.35],[2007.06,4.3],[2007.12,2.6],[2007.2,2.2],[2007.3,2.1],[2007.38,2.6],[2007.45,3.5],[2007.54,4.48],[2007.58,3.8],[2007.65,2.5],[2007.72,1.9],[2007.82,1.6],[2007.9,1.8],[2008.0,2.0],[2008.05,1.7],[2008.15,1.5],[2008.25,1.4],[2008.35,1.3],[2008.45,1.2],[2008.55,1.0],[2008.65,0.95],[2008.75,1.0],[2008.85,1.05],[2008.95,1.1],[2009.05,1.0],[2009.2,1.05],[2009.35,1.1],[2009.5,1.05],[2009.65,1.15],[2009.8,1.2],[2009.95,1.25],[2010.1,1.3],[2010.24,1.35]];
const borGray3 = [[2006.0,2.6],[2006.1,2.2],[2006.2,2.4],[2006.3,2.9],[2006.4,3.5],[2006.5,3.85],[2006.6,3.93],[2006.68,3.7],[2006.74,3.6],[2006.8,3.3],[2006.9,2.8],[2007.0,2.4],[2007.1,2.2],[2007.2,2.5],[2007.3,2.9],[2007.4,3.3],[2007.5,3.55],[2007.58,3.3],[2007.66,2.7],[2007.75,2.3],[2007.85,2.0],[2007.95,1.8],[2008.05,1.6],[2008.15,1.5],[2008.25,1.7],[2008.35,1.9],[2008.45,1.6],[2008.55,1.3],[2008.65,1.1],[2008.75,1.2],[2008.83,2.4],[2008.89,2.95],[2008.95,2.6],[2009.0,2.79],[2009.05,2.4],[2009.12,1.8],[2009.2,1.4],[2009.3,1.2],[2009.45,1.1],[2009.6,1.0],[2009.75,1.05],[2009.9,1.1],[2010.05,1.15],[2010.24,1.2]];
const borGray4 = [[2006.0,1.6],[2006.1,1.5],[2006.2,1.7],[2006.3,1.6],[2006.4,1.8],[2006.5,1.7],[2006.6,1.5],[2006.7,1.6],[2006.8,1.8],[2006.9,1.7],[2007.0,1.5],[2007.1,1.4],[2007.2,1.6],[2007.3,1.8],[2007.4,2.1],[2007.5,1.9],[2007.6,1.6],[2007.7,1.5],[2007.8,1.4],[2007.9,1.5],[2008.0,1.6],[2008.1,1.8],[2008.2,1.6],[2008.3,1.4],[2008.4,1.3],[2008.5,1.2],[2008.6,1.1],[2008.7,1.0],[2008.8,1.2],[2008.9,1.6],[2009.0,2.4],[2009.08,3.2],[2009.13,3.57],[2009.2,3.55],[2009.25,3.3],[2009.3,2.7],[2009.38,2.0],[2009.45,1.5],[2009.55,1.2],[2009.7,1.1],[2009.85,1.15],[2010.0,1.2],[2010.24,1.25]];
const borGray5 = [[2006.0,1.3],[2006.1,1.4],[2006.2,1.2],[2006.3,1.3],[2006.4,1.5],[2006.5,1.4],[2006.6,1.2],[2006.7,1.1],[2006.8,1.3],[2006.9,1.4],[2007.0,1.2],[2007.1,1.1],[2007.2,1.3],[2007.3,1.5],[2007.4,1.4],[2007.5,1.2],[2007.6,1.3],[2007.7,1.5],[2007.8,1.3],[2007.9,1.2],[2008.0,1.4],[2008.1,1.3],[2008.2,1.2],[2008.3,1.5],[2008.4,1.4],[2008.5,1.2],[2008.6,1.1],[2008.7,1.2],[2008.8,1.3],[2008.9,1.2],[2009.0,1.1],[2009.1,1.2],[2009.2,1.1],[2009.3,1.0],[2009.45,1.05],[2009.6,1.1],[2009.72,1.5],[2009.82,2.3],[2009.89,2.69],[2009.95,2.3],[2010.02,2.0],[2010.08,1.9],[2010.12,1.95],[2010.18,1.75],[2010.24,1.6]];
const borGray6 = [[2006.0,1.2],[2006.1,1.1],[2006.2,1.0],[2006.3,1.1],[2006.4,1.0],[2006.5,0.95],[2006.6,1.05],[2006.7,1.0],[2006.8,0.9],[2006.9,0.95],[2007.0,1.0],[2007.1,0.9],[2007.2,0.95],[2007.3,1.05],[2007.4,1.0],[2007.5,0.95],[2007.6,0.9],[2007.7,0.95],[2007.8,1.0],[2007.9,0.95],[2008.0,0.9],[2008.1,0.95],[2008.2,1.0],[2008.3,0.95],[2008.4,0.9],[2008.5,0.85],[2008.6,0.9],[2008.7,0.95],[2008.8,0.9],[2008.9,0.95],[2009.0,1.0],[2009.1,0.95],[2009.2,1.0],[2009.35,1.05],[2009.5,1.0],[2009.65,1.05],[2009.8,1.0],[2009.95,1.05],[2010.1,1.1],[2010.24,1.1]];
const borGray7 = [[2006.0,0.8],[2006.15,0.85],[2006.3,0.8],[2006.45,0.75],[2006.6,0.8],[2006.75,0.75],[2006.9,0.8],[2007.05,0.75],[2007.2,0.8],[2007.35,0.85],[2007.5,0.8],[2007.65,0.75],[2007.8,0.8],[2007.95,0.75],[2008.1,0.8],[2008.25,0.75],[2008.4,0.7],[2008.55,0.65],[2008.7,0.75],[2008.85,0.7],[2009.0,0.8],[2009.15,0.85],[2009.3,0.8],[2009.45,0.85],[2009.6,0.8],[2009.75,0.85],[2009.9,0.8],[2010.05,0.85],[2010.24,0.8]];
const borGray8 = [[2006.0,1.7],[2006.08,1.6],[2006.16,2.0],[2006.22,2.6],[2006.28,2.2],[2006.35,1.8],[2006.45,1.6],[2006.55,2.0],[2006.62,2.2],[2006.7,1.9],[2006.8,1.6],[2006.88,1.5],[2006.95,1.7],[2007.05,1.9],[2007.15,1.6],[2007.25,1.4],[2007.35,1.6],[2007.45,1.9],[2007.55,2.1],[2007.62,2.6],[2007.7,2.0],[2007.8,1.6],[2007.9,1.5],[2008.0,1.7],[2008.1,1.9],[2008.2,2.2],[2008.27,2.5],[2008.35,2.0],[2008.45,1.7],[2008.55,1.5],[2008.65,1.3],[2008.75,1.2],[2008.85,1.4],[2008.95,1.7],[2009.05,1.9],[2009.12,2.1],[2009.2,1.7],[2009.3,1.3],[2009.45,1.15],[2009.6,1.2],[2009.8,1.25],[2010.0,1.3],[2010.24,1.35]];
const borGray9 = [[2006.0,3.75],[2006.1,3.6],[2006.2,3.4],[2006.3,3.2],[2006.4,3.0],[2006.5,2.8],[2006.6,2.7],[2006.7,2.9],[2006.8,3.3],[2006.9,3.2],[2007.0,2.9],[2007.1,2.7],[2007.2,3.1],[2007.3,3.6],[2007.38,4.4],[2007.44,4.3],[2007.5,3.6],[2007.6,2.9],[2007.7,2.5],[2007.8,2.2],[2007.9,2.0],[2008.0,1.9],[2008.1,1.8],[2008.2,1.7],[2008.3,1.6],[2008.4,1.5],[2008.5,1.4],[2008.6,1.3],[2008.7,1.4],[2008.8,1.6],[2008.9,1.5],[2009.0,1.3],[2009.1,1.2],[2009.25,1.1],[2009.4,1.05],[2009.6,1.1],[2009.8,1.15],[2010.0,1.2],[2010.24,1.25]];
const borGray10 = [[2006.0,1.0],[2006.1,0.95],[2006.2,1.05],[2006.3,1.2],[2006.4,1.1],[2006.5,1.0],[2006.6,1.15],[2006.7,1.3],[2006.8,1.2],[2006.9,1.1],[2007.0,1.0],[2007.1,1.1],[2007.2,1.2],[2007.3,1.1],[2007.4,1.0],[2007.5,1.1],[2007.6,1.2],[2007.7,1.3],[2007.8,1.15],[2007.9,1.05],[2008.0,1.1],[2008.1,1.2],[2008.2,1.3],[2008.3,1.2],[2008.4,1.1],[2008.5,1.0],[2008.6,0.95],[2008.7,1.0],[2008.8,1.1],[2008.9,1.05],[2009.0,1.0],[2009.1,1.05],[2009.2,1.1],[2009.3,1.05],[2009.45,1.1],[2009.6,1.15],[2009.75,1.2],[2009.9,1.15],[2010.05,1.2],[2010.24,1.25]];
const borGray11 = [[2006.0,0.65],[2006.2,0.7],[2006.4,0.6],[2006.6,0.65],[2006.8,0.6],[2007.0,0.62],[2007.2,0.68],[2007.4,0.7],[2007.6,0.65],[2007.8,0.7],[2008.0,0.68],[2008.2,0.65],[2008.4,0.62],[2008.55,0.58],[2008.7,0.65],[2008.9,0.7],[2009.1,0.72],[2009.3,0.75],[2009.5,0.72],[2009.7,0.75],[2009.9,0.78],[2010.1,0.8],[2010.24,0.78]];
const borGray12 = [[2006.0,0.9],[2006.15,0.95],[2006.3,0.9],[2006.45,0.85],[2006.6,0.9],[2006.75,0.95],[2006.9,0.88],[2007.05,0.85],[2007.2,0.9],[2007.35,0.95],[2007.5,0.9],[2007.65,0.85],[2007.8,0.88],[2007.95,0.9],[2008.1,0.85],[2008.25,0.82],[2008.4,0.8],[2008.55,0.75],[2008.7,0.82],[2008.85,0.85],[2009.0,0.9],[2009.15,0.92],[2009.3,0.95],[2009.45,0.92],[2009.6,0.95],[2009.75,0.98],[2009.9,1.0],[2010.05,1.02],[2010.24,1.0]];
const borGray13 = [[2006.0,1.45],[2006.08,1.3],[2006.18,1.45],[2006.3,1.55],[2006.42,1.35],[2006.55,1.2],[2006.68,1.4],[2006.8,1.55],[2006.92,1.35],[2007.05,1.25],[2007.18,1.45],[2007.3,1.6],[2007.42,1.45],[2007.55,1.3],[2007.68,1.4],[2007.8,1.6],[2007.92,1.45],[2008.05,1.3],[2008.18,1.45],[2008.3,1.6],[2008.42,1.4],[2008.55,1.2],[2008.68,1.1],[2008.8,1.25],[2008.92,1.35],[2009.05,1.2],[2009.2,1.1],[2009.35,1.05],[2009.5,1.1],[2009.65,1.15],[2009.8,1.1],[2010.0,1.15],[2010.24,1.2]];
const borGray14 = [[2006.0,2.2],[2006.1,2.0],[2006.2,1.8],[2006.3,2.1],[2006.38,2.5],[2006.45,2.3],[2006.55,1.9],[2006.65,1.7],[2006.75,2.0],[2006.85,2.3],[2006.95,2.0],[2007.05,1.7],[2007.15,1.9],[2007.25,2.3],[2007.35,2.1],[2007.45,2.5],[2007.52,2.8],[2007.6,2.3],[2007.7,1.9],[2007.8,1.7],[2007.9,1.6],[2008.0,1.8],[2008.1,2.0],[2008.2,1.7],[2008.3,1.5],[2008.42,1.4],[2008.55,1.3],[2008.68,1.2],[2008.78,1.5],[2008.86,2.2],[2008.92,2.6],[2009.0,2.2],[2009.1,1.6],[2009.2,1.3],[2009.35,1.15],[2009.5,1.1],[2009.7,1.15],[2009.9,1.2],[2010.1,1.25],[2010.24,1.3]];
const borGrays = [borGray1, borGray2, borGray3, borGray4, borGray5, borGray6, borGray7, borGray8, borGray9, borGray10, borGray11, borGray12, borGray13, borGray14];
const borGrayShades = ['#c8c8c8', '#9a9a9a', '#b0b0b0', '#c4c4c4', '#a8a8a8', '#d0d0d0', '#bcbcbc', '#b8b8b8', '#dadada', '#aaaaaa', '#d4d4d4', '#c6c6c6', '#bdbdbd', '#a5a5a5'];

// ---- Lender connectivity importance (physical network) ----
const lenBlue = [[2006.0,0.98],[2006.11,1.05],[2006.2,1.2],[2006.28,1.35],[2006.35,1.39],[2006.42,1.24],[2006.53,1.35],[2006.59,1.39],[2006.67,1.24],[2006.76,1.05],[2006.84,0.9],[2006.92,0.9],[2007.03,0.83],[2007.12,0.98],[2007.2,1.09],[2007.31,0.94],[2007.43,0.9],[2007.51,0.98],[2007.57,1.27],[2007.62,1.57],[2007.68,1.61],[2007.76,1.5],[2007.85,1.39],[2007.96,1.27],[2008.03,1.2],[2008.1,1.12],[2008.16,1.07],[2008.23,1.16],[2008.32,1.35],[2008.39,1.8],[2008.46,2.7],[2008.53,3.74],[2008.59,4.34],[2008.66,5.09],[2008.7,5.61],[2008.74,6.5],[2008.8,7.33],[2008.85,8.0],[2008.9,8.23],[2008.95,8.08],[2008.99,7.33],[2009.03,5.98],[2009.07,4.34],[2009.12,2.99],[2009.16,2.1],[2009.2,1.5],[2009.24,1.16],[2009.33,0.98],[2009.47,0.9],[2009.61,0.86],[2009.75,0.86],[2009.91,0.89],[2010.08,0.9],[2010.24,0.94]];
const lenCyan = [[2006.0,1.42],[2006.08,1.27],[2006.17,1.05],[2006.22,0.94],[2006.31,1.2],[2006.39,1.5],[2006.48,1.95],[2006.55,2.21],[2006.59,2.02],[2006.64,1.5],[2006.73,1.2],[2006.84,0.9],[2006.92,0.9],[2007.01,1.35],[2007.06,1.57],[2007.1,1.54],[2007.16,1.61],[2007.22,1.42],[2007.29,1.27],[2007.37,1.12],[2007.45,1.05],[2007.54,0.94],[2007.59,0.9],[2007.65,1.2],[2007.73,1.5],[2007.8,1.8],[2007.86,2.25],[2007.9,2.4],[2007.95,2.28],[2008.01,2.47],[2008.07,2.54],[2008.14,2.66],[2008.21,2.4],[2008.28,2.21],[2008.34,2.3],[2008.39,2.4],[2008.45,2.25],[2008.52,2.06],[2008.6,1.8],[2008.66,1.57],[2008.71,1.95],[2008.77,2.4],[2008.82,2.99],[2008.88,3.4],[2008.93,2.99],[2008.98,2.66],[2009.02,2.84],[2009.07,3.37],[2009.13,3.89],[2009.18,4.0],[2009.2,4.04],[2009.26,3.74],[2009.33,3.14],[2009.4,2.62],[2009.44,1.87],[2009.5,1.27],[2009.58,1.2],[2009.69,1.35],[2009.8,1.27],[2009.89,1.39],[2009.97,1.24],[2010.03,1.27],[2010.11,1.05],[2010.24,0.94]];
const lenGreen = [[2006.0,1.5],[2006.08,1.27],[2006.17,1.2],[2006.25,1.39],[2006.34,1.65],[2006.42,1.95],[2006.49,2.1],[2006.56,1.95],[2006.62,1.65],[2006.7,1.57],[2006.78,1.5],[2006.87,1.42],[2006.95,1.35],[2007.03,1.2],[2007.12,1.27],[2007.23,1.31],[2007.34,1.2],[2007.43,1.05],[2007.51,0.98],[2007.59,1.12],[2007.68,0.9],[2007.79,0.83],[2007.93,0.79],[2008.07,0.86],[2008.18,0.9],[2008.3,0.84],[2008.41,0.79],[2008.57,0.79],[2008.71,0.77],[2008.85,0.75],[2008.96,0.68],[2009.07,0.83],[2009.18,0.94],[2009.33,0.94],[2009.47,0.94],[2009.61,1.01],[2009.75,0.94],[2009.91,0.98],[2010.08,1.01],[2010.24,1.05]];
const lenBlack = [[2006.0,1.87],[2006.06,1.99],[2006.11,2.4],[2006.17,2.84],[2006.24,3.52],[2006.28,3.29],[2006.34,2.92],[2006.39,2.84],[2006.43,2.77],[2006.46,2.88],[2006.5,2.47],[2006.53,1.87],[2006.59,1.68],[2006.64,2.25],[2006.67,2.28],[2006.73,2.17],[2006.78,2.13],[2006.81,2.21],[2006.85,1.65],[2006.88,1.5],[2006.91,1.57],[2006.95,2.25],[2007.01,3.07],[2007.06,3.32],[2007.12,3.2],[2007.17,2.99],[2007.23,2.77],[2007.29,2.4],[2007.34,2.54],[2007.44,2.99],[2007.48,2.84],[2007.54,2.54],[2007.59,2.32],[2007.65,2.1],[2007.73,1.91],[2007.79,2.02],[2007.86,2.92],[2007.93,2.4],[2008.01,2.4],[2008.1,2.13],[2008.18,1.8],[2008.25,1.35],[2008.32,1.42],[2008.39,1.95],[2008.46,2.62],[2008.52,3.29],[2008.56,3.52],[2008.6,2.99],[2008.64,2.25],[2008.71,1.5],[2008.78,1.05],[2008.85,0.86],[2008.91,0.83],[2008.99,0.98],[2009.07,0.94],[2009.18,0.9],[2009.27,0.9],[2009.38,0.98],[2009.47,1.05],[2009.6,1.05],[2009.75,1.01],[2009.91,1.01],[2010.08,1.05],[2010.24,1.05]];
const lenGray1 = [[2006.0,4.04],[2006.05,3.9],[2006.1,4.6],[2006.15,5.29],[2006.2,4.8],[2006.27,3.9],[2006.35,3.5],[2006.45,3.2],[2006.55,3.4],[2006.65,3.6],[2006.75,4.4],[2006.82,4.9],[2006.87,5.21],[2006.93,4.3],[2007.0,3.8],[2007.05,4.9],[2007.1,4.2],[2007.18,3.6],[2007.25,3.8],[2007.32,4.95],[2007.38,4.2],[2007.45,3.5],[2007.55,4.38],[2007.6,3.7],[2007.68,4.2],[2007.75,4.79],[2007.82,4.1],[2007.9,3.5],[2008.0,3.1],[2008.1,3.2],[2008.2,3.0],[2008.3,3.4],[2008.4,3.6],[2008.5,3.2],[2008.6,2.6],[2008.7,2.0],[2008.8,1.7],[2008.9,1.6],[2009.0,1.5],[2009.1,1.4],[2009.25,1.3],[2009.4,1.2],[2009.55,1.25],[2009.7,1.3],[2009.85,1.5],[2009.92,1.9],[2010.0,1.6],[2010.12,1.5],[2010.24,1.5]];
const lenGray2 = [[2006.0,3.9],[2006.07,4.0],[2006.13,3.7],[2006.2,3.3],[2006.3,3.0],[2006.41,3.82],[2006.48,3.2],[2006.58,2.8],[2006.68,2.5],[2006.78,2.7],[2006.88,3.2],[2006.95,3.9],[2007.03,4.3],[2007.1,3.4],[2007.2,3.0],[2007.3,2.8],[2007.4,3.0],[2007.5,3.2],[2007.58,3.0],[2007.66,2.8],[2007.75,2.6],[2007.85,2.4],[2007.95,2.6],[2008.05,2.9],[2008.15,2.6],[2008.25,2.3],[2008.35,2.2],[2008.45,2.5],[2008.55,2.2],[2008.65,1.8],[2008.75,1.5],[2008.85,2.3],[2008.92,2.6],[2009.0,3.1],[2009.06,2.5],[2009.15,1.8],[2009.25,1.5],[2009.4,1.3],[2009.55,1.2],[2009.7,1.3],[2009.85,1.4],[2009.95,1.3],[2010.1,1.4],[2010.24,1.5]];
const lenGray3 = [[2006.0,2.6],[2006.1,2.3],[2006.2,2.1],[2006.3,2.0],[2006.4,2.2],[2006.5,2.4],[2006.6,2.1],[2006.7,1.8],[2006.8,2.0],[2006.9,1.7],[2007.0,1.8],[2007.1,2.5],[2007.2,2.9],[2007.3,2.6],[2007.4,2.2],[2007.5,2.0],[2007.6,1.8],[2007.7,1.9],[2007.8,2.4],[2007.9,2.8],[2008.0,2.5],[2008.1,2.0],[2008.2,1.8],[2008.3,2.6],[2008.36,3.52],[2008.43,3.48],[2008.5,3.0],[2008.58,2.2],[2008.66,1.6],[2008.75,1.3],[2008.85,1.2],[2008.95,1.25],[2009.05,1.2],[2009.15,1.3],[2009.25,1.4],[2009.35,1.5],[2009.45,1.3],[2009.6,1.2],[2009.75,1.3],[2009.85,1.5],[2009.93,2.0],[2010.0,1.5],[2010.06,1.3],[2010.14,3.11],[2010.2,2.6],[2010.24,2.27]];
const lenGray4 = [[2006.0,2.9],[2006.1,2.7],[2006.2,2.5],[2006.3,2.3],[2006.4,2.6],[2006.5,3.3],[2006.58,2.9],[2006.68,2.4],[2006.78,2.2],[2006.88,2.0],[2006.98,2.3],[2007.08,2.8],[2007.18,2.6],[2007.28,2.4],[2007.38,2.5],[2007.48,3.1],[2007.56,3.0],[2007.65,2.5],[2007.75,2.2],[2007.85,2.0],[2007.95,1.8],[2008.05,1.9],[2008.15,2.2],[2008.25,2.6],[2008.35,2.3],[2008.45,2.0],[2008.55,1.7],[2008.65,1.5],[2008.75,1.6],[2008.85,1.9],[2008.92,2.0],[2009.0,1.8],[2009.1,1.6],[2009.2,1.5],[2009.3,1.4],[2009.45,1.3],[2009.6,1.35],[2009.75,1.4],[2009.85,1.7],[2009.92,2.25],[2010.0,1.7],[2010.1,1.6],[2010.18,1.75],[2010.24,1.87]];
const lenGray5 = [[2006.0,2.0],[2006.1,1.8],[2006.2,1.9],[2006.3,1.7],[2006.4,1.9],[2006.5,2.2],[2006.6,2.0],[2006.7,1.7],[2006.8,1.6],[2006.9,1.8],[2007.0,1.6],[2007.1,1.5],[2007.2,1.7],[2007.3,1.9],[2007.4,1.7],[2007.5,1.5],[2007.6,1.6],[2007.7,1.8],[2007.8,1.7],[2007.9,1.5],[2008.0,1.6],[2008.1,1.8],[2008.2,1.6],[2008.3,1.5],[2008.4,1.7],[2008.5,1.5],[2008.6,1.3],[2008.7,1.2],[2008.8,1.3],[2008.9,1.5],[2009.0,1.6],[2009.1,1.4],[2009.2,1.3],[2009.35,1.25],[2009.5,1.3],[2009.65,1.2],[2009.8,1.3],[2009.95,1.25],[2010.1,1.3],[2010.24,1.25]];
const lenGray6 = [[2006.0,0.75],[2006.2,0.8],[2006.4,0.75],[2006.6,0.78],[2006.8,0.72],[2007.0,0.75],[2007.2,0.78],[2007.4,0.72],[2007.6,0.75],[2007.8,0.8],[2008.0,0.78],[2008.2,0.75],[2008.4,0.72],[2008.6,0.7],[2008.8,0.72],[2009.0,0.75],[2009.2,0.78],[2009.4,0.8],[2009.6,0.78],[2009.8,0.8],[2010.0,0.82],[2010.24,0.8]];
const lenGray7 = [[2006.0,0.6],[2006.2,0.62],[2006.4,0.58],[2006.6,0.6],[2006.8,0.58],[2007.0,0.6],[2007.2,0.62],[2007.4,0.6],[2007.6,0.62],[2007.8,0.65],[2008.0,0.62],[2008.2,0.6],[2008.4,0.6],[2008.6,0.58],[2008.8,0.6],[2009.0,0.62],[2009.2,0.65],[2009.4,0.68],[2009.6,0.7],[2009.8,0.72],[2010.0,0.72],[2010.24,0.7]];
const lenGray8 = [[2006.0,1.2],[2006.1,1.1],[2006.2,1.25],[2006.3,1.4],[2006.4,1.3],[2006.5,1.2],[2006.6,1.35],[2006.7,1.5],[2006.8,1.3],[2006.9,1.15],[2007.0,1.2],[2007.1,1.35],[2007.2,1.25],[2007.3,1.1],[2007.4,1.2],[2007.5,1.3],[2007.6,1.2],[2007.7,1.1],[2007.8,1.25],[2007.9,1.4],[2008.0,1.3],[2008.1,1.2],[2008.2,1.1],[2008.3,1.25],[2008.4,1.2],[2008.5,1.1],[2008.6,1.0],[2008.7,1.05],[2008.8,1.2],[2008.9,1.3],[2009.0,1.4],[2009.1,1.3],[2009.2,1.2],[2009.3,1.25],[2009.45,1.4],[2009.55,1.3],[2009.7,1.2],[2009.85,1.25],[2010.0,1.2],[2010.12,1.3],[2010.24,1.2]];
const lenGray9 = [[2006.0,1.0],[2006.15,0.95],[2006.3,1.05],[2006.45,1.0],[2006.6,0.95],[2006.75,1.0],[2006.9,0.95],[2007.05,0.98],[2007.2,1.02],[2007.35,0.98],[2007.5,0.95],[2007.65,1.0],[2007.8,1.05],[2007.95,1.0],[2008.1,0.98],[2008.25,0.95],[2008.4,0.92],[2008.55,0.9],[2008.7,0.95],[2008.85,1.0],[2009.0,1.05],[2009.15,1.1],[2009.3,1.05],[2009.45,1.1],[2009.6,1.05],[2009.75,1.1],[2009.9,1.15],[2010.05,1.1],[2010.24,1.15]];
const lenGray10 = [[2006.0,1.6],[2006.1,1.45],[2006.2,1.6],[2006.3,1.8],[2006.4,1.65],[2006.5,1.5],[2006.6,1.7],[2006.7,1.9],[2006.8,1.7],[2006.9,1.5],[2007.0,1.6],[2007.1,1.8],[2007.2,2.0],[2007.3,1.8],[2007.4,1.6],[2007.5,1.5],[2007.6,1.6],[2007.7,1.75],[2007.8,1.6],[2007.9,1.45],[2008.0,1.5],[2008.1,1.7],[2008.2,1.9],[2008.3,1.7],[2008.4,1.5],[2008.5,1.3],[2008.6,1.2],[2008.7,1.1],[2008.8,1.2],[2008.9,1.35],[2009.0,1.3],[2009.1,1.2],[2009.2,1.25],[2009.35,1.2],[2009.5,1.25],[2009.65,1.15],[2009.8,1.2],[2010.0,1.25],[2010.24,1.3]];
const lenGray11 = [[2006.0,0.9],[2006.2,0.88],[2006.4,0.92],[2006.6,0.9],[2006.8,0.85],[2007.0,0.88],[2007.2,0.92],[2007.4,0.88],[2007.6,0.85],[2007.8,0.9],[2008.0,0.92],[2008.2,0.88],[2008.4,0.85],[2008.6,0.82],[2008.8,0.85],[2009.0,0.88],[2009.2,0.9],[2009.4,0.92],[2009.6,0.9],[2009.8,0.95],[2010.0,0.95],[2010.24,0.92]];
const lenGray12 = [[2006.0,3.6],[2006.1,3.2],[2006.2,2.9],[2006.3,2.6],[2006.4,2.9],[2006.5,3.4],[2006.58,3.0],[2006.68,2.6],[2006.78,2.9],[2006.88,3.6],[2006.95,4.1],[2007.02,3.6],[2007.12,3.0],[2007.22,3.3],[2007.3,3.9],[2007.38,3.4],[2007.48,3.0],[2007.58,3.4],[2007.66,3.0],[2007.75,3.3],[2007.85,3.6],[2007.95,3.2],[2008.05,2.8],[2008.15,2.6],[2008.25,2.9],[2008.35,3.1],[2008.45,2.8],[2008.55,2.3],[2008.65,1.9],[2008.75,1.7],[2008.85,1.9],[2008.95,2.4],[2009.02,2.2],[2009.1,1.8],[2009.2,1.5],[2009.35,1.35],[2009.5,1.3],[2009.65,1.35],[2009.8,1.45],[2009.9,1.7],[2010.0,1.4],[2010.12,1.5],[2010.24,1.45]];
const lenGrays = [lenGray1, lenGray2, lenGray3, lenGray4, lenGray5, lenGray6, lenGray7, lenGray8, lenGray9, lenGray10, lenGray11, lenGray12];
const lenGrayShades = ['#d8d8d8', '#c2c2c2', '#9a9a9a', '#b0b0b0', '#c4c4c4', '#cfcfcf', '#c8c8c8', '#aaaaaa', '#bababa', '#c0c0c0', '#cbcbcb', '#d2d2d2'];

// ---- colours and fonts ----
const highlightColors = { blue: '#3a3ad8', cyan: '#3ee0e0', green: '#3cbe3c', black: '#1f1f1f' };
const crisisColor = '#e9484c';
const sans = 'Liberation Sans, Arial, Helvetica, sans-serif';
const serif = 'DejaVu Serif, Liberation Serif, serif';

// ---- panel layout (pixel boxes of the four plotting areas) ----
const panels = [
  { box: { left: 44, top: 54, width: 556, height: 379 }, x: [2005.84, 2010.456], y: [0.01, 3.49],
    yTicks: inYTicks, yMinor: inYMinor, yName: 'Incoming Connectivity Importance', labelY: 0.1,
    grays: inGrays, shades: inGrayShades, hi: { black: inBlack, green: inGreen, cyan: inCyan, blue: inBlue } },
  { box: { left: 662, top: 54, width: 546, height: 378 }, x: [2005.851, 2010.364], y: [0, 4.484],
    yTicks: outYTicks, yMinor: outYMinor, yName: 'Outgoing Connectivity Importance', labelY: 0.1,
    grays: outGrays, shades: outGrayShades, hi: { black: outBlack, green: outGreen, cyan: outCyan, blue: outBlue } },
  { box: { left: 44, top: 597, width: 556, height: 378 }, x: [2005.799, 2010.455], y: [0.13, 7.49],
    yTicks: borYTicks, yMinor: borYMinor, yName: 'Borrower Connectivity Importance', labelY: 0.29,
    grays: borGrays, shades: borGrayShades, hi: { blue: borBlue, cyan: borCyan, green: borGreen, black: borBlack } },
  { box: { left: 662, top: 597, width: 546, height: 378 }, x: [2005.79, 2010.373], y: [0.117, 8.59],
    yTicks: lenYTicks, yMinor: lenYMinor, yName: 'Lender Connectivity Importance', labelY: 0.3,
    grays: lenGrays, shades: lenGrayShades, hi: { green: lenGreen, black: lenBlack, cyan: lenCyan, blue: lenBlue } }
];

const grid = [], xAxis = [], yAxis = [], series = [];

panels.forEach((p, i) => {
  grid.push(Object.assign({ show: true, borderColor: '#8a8a8a', borderWidth: 1, backgroundColor: '#fff',
    containLabel: false, outerBoundsMode: 'none' }, p.box));

  const tickLabel = { color: '#4d4d4d', fontSize: 11, fontFamily: sans };
  // major x axis with year ticks
  xAxis.push({ type: 'value', gridIndex: i, min: p.x[0], max: p.x[1], position: 'bottom',
    axisLine: { show: false },
    axisTick: { show: true, length: 4, lineStyle: { color: '#7a7a7a' }, customValues: xTicks },
    axisLabel: Object.assign({ customValues: xTicks, margin: 8, formatter: v => String(Math.round(v)) }, tickLabel),
    splitLine: { show: true, lineStyle: { color: '#e4e4e4', width: 1 } },
    name: 'Date', nameLocation: 'middle', nameGap: 22,
    nameTextStyle: { fontSize: 14, color: '#1a1a1a', fontFamily: sans } });
  // minor x grid
  xAxis.push({ type: 'value', gridIndex: i, min: p.x[0], max: p.x[1], position: 'top',
    axisLine: { show: false }, axisTick: { show: false, customValues: xMinorTicks },
    axisLabel: { show: false, customValues: xMinorTicks },
    splitLine: { show: true, lineStyle: { color: '#f2f2f2', width: 1 } } });
  // major y axis
  yAxis.push({ type: 'value', gridIndex: i, min: p.y[0], max: p.y[1], position: 'left',
    axisLine: { show: false },
    axisTick: { show: true, length: 4, lineStyle: { color: '#7a7a7a' }, customValues: p.yTicks },
    axisLabel: Object.assign({ customValues: p.yTicks, margin: 8, formatter: v => String(Math.round(v)) }, tickLabel),
    splitLine: { show: true, lineStyle: { color: '#e4e4e4', width: 1 } },
    name: p.yName, nameLocation: 'middle', nameRotate: 90, nameGap: 18,
    nameTextStyle: { fontSize: 14, color: '#1a1a1a', fontFamily: sans } });
  // minor y grid
  yAxis.push({ type: 'value', gridIndex: i, min: p.y[0], max: p.y[1], position: 'right',
    axisLine: { show: false }, axisTick: { show: false, customValues: p.yMinor },
    axisLabel: { show: false, customValues: p.yMinor },
    splitLine: { show: true, lineStyle: { color: '#f2f2f2', width: 1 } } });

  const xi = i * 2, yi = i * 2;
  p.grays.forEach((d, k) => {
    series.push({ type: 'line', xAxisIndex: xi, yAxisIndex: yi, data: d, smooth: 0.35,
      showSymbol: false, silent: true, z: 2,
      lineStyle: { color: p.shades[k], width: 1.5 } });
  });

  // period labels with crisis boundary lines
  const mids = periodNames.map((n, k) => [(periodEdges[k] + periodEdges[k + 1]) / 2, p.labelY]);
  series.push({ type: 'scatter', xAxisIndex: xi, yAxisIndex: yi, data: mids, symbolSize: 0, silent: true, z: 3,
    label: { show: true, position: 'inside', formatter: prm => periodNames[prm.dataIndex],
      fontSize: 14, color: '#333', fontFamily: sans },
    markLine: { symbol: 'none', silent: true, animation: false, label: { show: false },
      lineStyle: { color: crisisColor, width: 2, type: 'solid' },
      data: crisisDates.map(d => ({ xAxis: d })) } });

  Object.keys(p.hi).forEach(key => {
    series.push({ type: 'line', xAxisIndex: xi, yAxisIndex: yi, data: p.hi[key], smooth: 0.35,
      showSymbol: false, silent: true, z: 4,
      lineStyle: { color: highlightColors[key], width: 1.7 } });
  });
});

const chart = echarts.init(document.getElementById('chart'), null, { renderer: 'canvas' });
chart.setOption({
  animation: false,
  backgroundColor: '#ffffff',
  grid, xAxis, yAxis, series,
  graphic: [
    { type: 'text', x: 618, y: 20, style: { text: 'Correlation Network', font: '25.5px ' + serif, fill: '#111',
      align: 'center', verticalAlign: 'middle', textAlign: 'center', textVerticalAlign: 'middle' } },
    { type: 'text', x: 618, y: 564, style: { text: 'Physical Network', font: '25.5px ' + serif, fill: '#111',
      align: 'center', verticalAlign: 'middle', textAlign: 'center', textVerticalAlign: 'middle' } }
  ]
});
</script>
</body>
</html>
